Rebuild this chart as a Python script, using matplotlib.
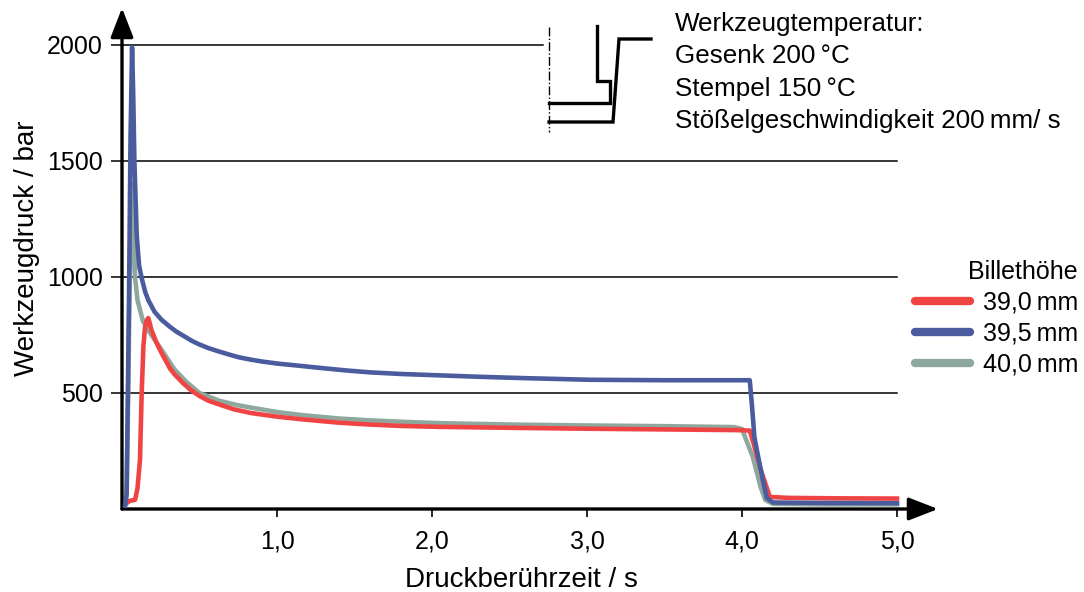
import matplotlib
matplotlib.use("Agg")
import matplotlib.pyplot as plt
from matplotlib.lines import Line2D

plt.rcParams['font.family'] = ['Liberation Sans', 'DejaVu Sans']
plt.rcParams['font.size'] = 18

# Billethoehe 39,0 mm (rot)
t_rot = [0.03, 0.05, 0.085, 0.1, 0.116, 0.127, 0.138, 0.148, 0.16, 0.17, 0.19, 0.22, 0.256,
         0.31, 0.34, 0.39, 0.44, 0.5, 0.56, 0.63, 0.72, 0.83, 1.0, 1.17, 1.4, 1.6, 1.8,
         2.05, 2.5, 3.0, 3.5, 3.97, 4.05, 4.08, 4.12, 4.18, 4.3, 4.6, 5.0]
p_rot = [25, 35, 40, 90, 211, 500, 700, 780, 815, 823, 772, 720, 672,
         605, 580, 545, 515, 487, 466, 450, 430, 414, 398, 386, 372, 364, 358,
         354, 350, 346, 343, 340, 338, 270, 170, 52, 48, 46, 45]

# Billethoehe 39,5 mm (blau)
t_blau = [0.02, 0.03, 0.045, 0.055, 0.065, 0.072, 0.08, 0.095, 0.11, 0.127, 0.15, 0.17, 0.21,
          0.256, 0.31, 0.35, 0.4, 0.45, 0.5, 0.56, 0.63, 0.7, 0.76, 0.83, 0.9, 1.0, 1.15,
          1.28, 1.45, 1.6, 1.8, 2.05, 2.3, 2.6, 3.02, 3.5, 4.05, 4.065, 4.08, 4.1, 4.13,
          4.16, 4.2, 4.5, 5.0]
p_blau = [15, 60, 900, 1600, 1990, 1800, 1500, 1180, 1050, 995, 935, 900, 850,
          815, 785, 765, 745, 725, 709, 693, 678, 664, 653, 644, 636, 627, 617,
          608, 597, 589, 582, 576, 570, 564, 557, 555, 555, 440, 310, 240, 140,
          47, 28, 26, 25]

# Billethoehe 40,0 mm (grau)
t_grau = [0.02, 0.03, 0.04, 0.05, 0.06, 0.07, 0.084, 0.1, 0.135, 0.17, 0.256, 0.34, 0.42,
          0.5, 0.63, 0.75, 0.85, 1.0, 1.17, 1.4, 1.6, 1.8, 2.05, 2.5, 3.0, 3.5, 3.95, 4.0,
          4.02, 4.07, 4.12, 4.15, 4.2, 4.5, 5.0]
p_grau = [20, 100, 500, 1000, 1400, 1250, 1000, 900, 810, 770, 685, 600, 545,
          500, 466, 447, 435, 418, 404, 390, 382, 376, 370, 364, 360, 357, 353, 345,
          310, 224, 95, 39, 22, 20, 20]

x_ticks = [1.0, 2.0, 3.0, 4.0, 5.0]
x_labels = ['1,0', '2,0', '3,0', '4,0', '5,0']
y_ticks = [500, 1000, 1500, 2000]
legend_labels = ['39,0\u2009mm', '39,5\u2009mm', '40,0\u2009mm']
colors = ['#f04444', '#4a5c9e', '#8fa89d']

W, H = 1084, 592
fig = plt.figure(figsize=(W / 100, H / 100), dpi=100)
ax = fig.add_axes([122 / W, (H - 509) / H, (938 - 122) / W, (509 - 8) / H])
ax.set_xlim(0, 816 / 155)
ax.set_ylim(0, 501 / 0.232)

# grid lines
for y in y_ticks:
    xe = 2.716 if y == 2000 else 5.0
    ax.plot([0, xe], [y, y], color='k', lw=1.1, zorder=1)

ax.plot(t_grau, p_grau, color=colors[2], lw=3.3, zorder=3, solid_joinstyle='round')
ax.plot(t_rot, p_rot, color=colors[0], lw=3.3, zorder=4, solid_joinstyle='round')
ax.plot(t_blau, p_blau, color=colors[1], lw=3.3, zorder=5, solid_joinstyle='round')

for s in ['top', 'right', 'left', 'bottom']:
    ax.spines[s].set_visible(False)
ax.annotate('', xy=(1, 0), xytext=(0, 0), xycoords='axes fraction',
            arrowprops=dict(arrowstyle='-|>,head_length=0.9,head_width=0.35', lw=2.4,
                            color='k', mutation_scale=20, shrinkA=0, shrinkB=0))
ax.annotate('', xy=(0, 1), xytext=(0, 0), xycoords='axes fraction',
            arrowprops=dict(arrowstyle='-|>,head_length=0.9,head_width=0.35', lw=2.4,
                            color='k', mutation_scale=20, shrinkA=0, shrinkB=0))

ax.set_xticks(x_ticks)
ax.set_xticklabels(x_labels)
ax.set_yticks(y_ticks)
ax.set_yticklabels([str(v) for v in y_ticks])
ax.tick_params(axis='x', direction='out', length=6, width=1.2, pad=9)
ax.tick_params(axis='y', direction='out', length=8, width=1.1, pad=6)

ax.set_xlabel('Druckberührzeit / s', fontsize=20)
ax.xaxis.set_label_coords(0.49, -0.115)
ax.set_ylabel('Werkzeugdruck / bar', fontsize=20)
ax.yaxis.set_label_coords(-0.10, 0.52)

# legend
handles = [Line2D([], [], color=c, lw=6, solid_capstyle='round') for c in colors]
leg = fig.legend(handles, legend_labels, title='Billethöhe', loc='upper right',
                 bbox_to_anchor=(1078 / W, 1 - 260 / H), frameon=False,
                 handlelength=2.2, handletextpad=0.5, labelspacing=0.27,
                 borderpad=0, borderaxespad=0, alignment='right', fontsize=18,
                 title_fontsize=18)

# schematic sketch of the tool
def fx(x):
    return x / W

def fy(y):
    return 1 - y / H

tf = fig.transFigure
fig.add_artist(Line2D([fx(549), fx(549)], [fy(27), fy(132)], transform=tf, color='k',
                      lw=1.0, linestyle='-.'))
fig.add_artist(Line2D([fx(597), fx(597), fx(610), fx(610), fx(549)],
                      [fy(26), fy(81), fy(81), fy(103), fy(103)], transform=tf,
                      color='k', lw=2.4, solid_joinstyle='miter'))
fig.add_artist(Line2D([fx(549), fx(613), fx(619), fx(651)],
                      [fy(122), fy(122), fy(39), fy(39)], transform=tf,
                      color='k', lw=2.4, solid_joinstyle='miter'))

lines = ['Werkzeugtemperatur:', 'Gesenk 200\u2009°C', 'Stempel 150\u2009°C',
         'Stößelgeschwindigkeit 200\u2009mm/ s']
for i, txt in enumerate(lines):
    fig.text(fx(675), fy(31 + 32.3 * i), txt, ha='left', va='baseline', fontsize=18.7)

fig.savefig('out.png', dpi=100)
